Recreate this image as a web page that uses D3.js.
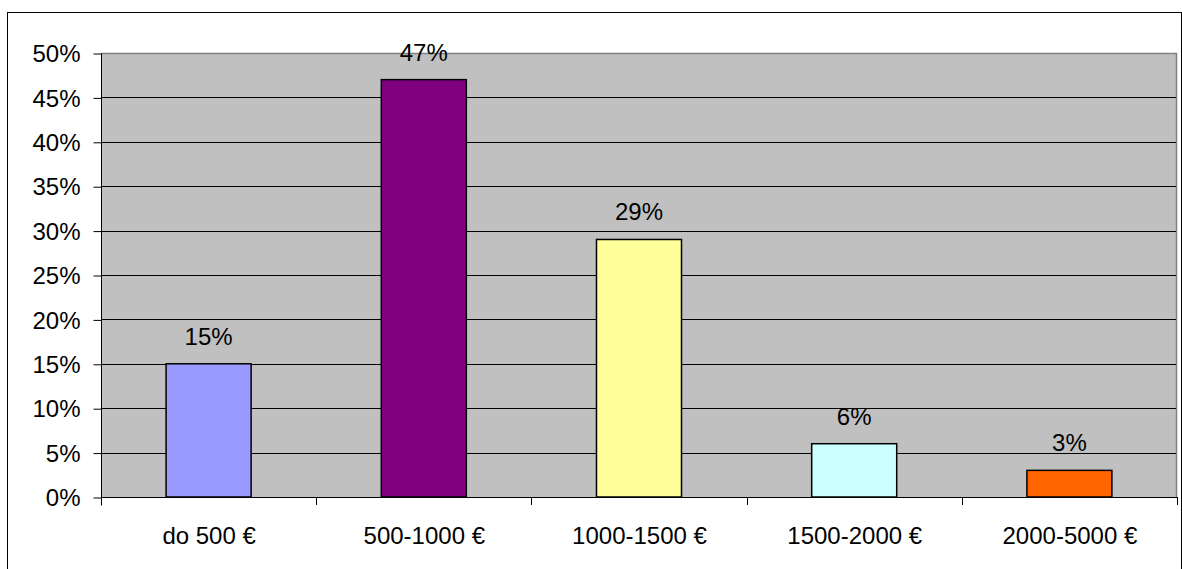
<!DOCTYPE html>
<html>
<head>
<meta charset="utf-8">
<script src="https://cdn.jsdelivr.net/npm/d3@7"></script>
<style>
  html, body { margin: 0; padding: 0; background: #fff; }
  svg { display: block; }
  text { font-family: "Liberation Sans", Arial, sans-serif; fill: #000; }
</style>
</head>
<body>
<svg id="chart" width="1182" height="569"></svg>
<script>
// Income brackets and share of respondents (%)
const categories = ["do 500 €", "500-1000 €", "1000-1500 €", "1500-2000 €", "2000-5000 €"];
const values = [15, 47, 29, 6, 3];
const barColors = ["#9999FF", "#800080", "#FFFF99", "#CCFFFF", "#FF6600"];
const yTicks = [0, 5, 10, 15, 20, 25, 30, 35, 40, 45, 50];

const svg = d3.select("#chart");
const W = 1182, H = 569;
const plot = { left: 101, top: 53, right: 1177, bottom: 497 };

// outer frame
svg.append("rect")
  .attr("x", 7.5).attr("y", 12.5)
  .attr("width", W - 8).attr("height", H)
  .attr("fill", "#fff").attr("stroke", "#000").attr("stroke-width", 1);

const x = d3.scaleBand().domain(categories).range([plot.left, plot.right]).paddingInner(0).paddingOuter(0);
const y = d3.scaleLinear().domain([0, 50]).range([plot.bottom, plot.top]);

// plot area background
svg.append("rect")
  .attr("x", plot.left).attr("y", plot.top)
  .attr("width", plot.right - plot.left).attr("height", plot.bottom - plot.top)
  .attr("fill", "#C0C0C0");

// gray border on top and right
svg.append("path")
  .attr("d", `M${plot.left},${plot.top + 0.5}H${plot.right - 0.5}V${plot.bottom}`)
  .attr("fill", "none").attr("stroke", "#808080").attr("stroke-width", 1.5);

// gridlines
svg.append("g")
  .selectAll("line")
  .data(yTicks.filter(t => t > 0 && t < 50))
  .join("line")
  .attr("x1", plot.left).attr("x2", plot.right - 1)
  .attr("y1", d => Math.round(y(d)) + 0.5).attr("y2", d => Math.round(y(d)) + 0.5)
  .attr("stroke", "#000").attr("stroke-width", 1);

// y axis
const yAxis = svg.append("g")
  .attr("transform", `translate(${plot.left + 0.5},0.5)`)
  .call(d3.axisLeft(y).tickValues(yTicks).tickFormat(d => d + "%").tickSize(8).tickPadding(13).tickSizeOuter(0));
yAxis.select(".domain").attr("stroke", "#000").attr("d", `M0,${plot.top}V${plot.bottom + 8}`);
yAxis.selectAll(".tick line").attr("stroke", "#000");
yAxis.selectAll(".tick text").attr("font-size", 24).attr("dy", "0.34em")
  .style("font-family", '"Liberation Sans", Arial, sans-serif');

// bars
const barW = x.bandwidth() * 0.395;
svg.append("g")
  .selectAll("rect")
  .data(values)
  .join("rect")
  .attr("x", (d, i) => x(categories[i]) + (x.bandwidth() - barW) / 2)
  .attr("y", d => y(d))
  .attr("width", barW)
  .attr("height", d => y(0) - y(d))
  .attr("fill", (d, i) => barColors[i])
  .attr("stroke", "#000").attr("stroke-width", 1.5);

// x axis
const xAxis = svg.append("g")
  .attr("transform", `translate(0.5,${plot.bottom + 0.5})`)
  .call(d3.axisBottom(x).tickSize(0).tickPadding(29).tickSizeOuter(0));
xAxis.select(".domain").attr("stroke", "#000").attr("d", `M${plot.left},0H${plot.right}`);
xAxis.selectAll(".tick text").attr("font-size", 24).attr("dy", "0.71em")
  .style("font-family", '"Liberation Sans", Arial, sans-serif');

// tick marks between categories
const boundaries = categories.map(c => x(c)).concat([plot.right]);
svg.append("g")
  .selectAll("line")
  .data(boundaries)
  .join("line")
  .attr("x1", d => Math.round(d) + 0.5).attr("x2", d => Math.round(d) + 0.5)
  .attr("y1", plot.bottom).attr("y2", plot.bottom + 8)
  .attr("stroke", "#000");

// value labels
svg.append("g")
  .selectAll("text")
  .data(values)
  .join("text")
  .attr("x", (d, i) => x(categories[i]) + x.bandwidth() / 2)
  .attr("y", d => y(d) - 19)
  .attr("text-anchor", "middle")
  .attr("font-size", 24)
  .text(d => d + "%");
</script>
</body>
</html>
